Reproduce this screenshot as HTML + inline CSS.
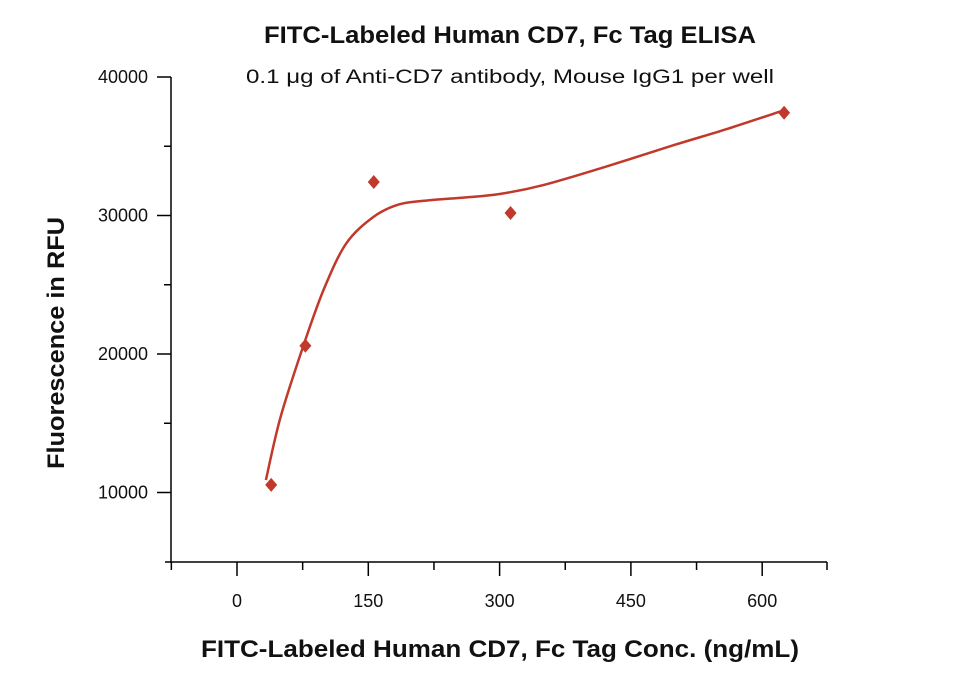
<!DOCTYPE html>
<html><head><meta charset="utf-8"><style>
body{margin:0;background:#fff;}
svg text{font-family:"Liberation Sans",sans-serif;fill:#111;}
</style></head><body>
<svg width="960" height="674" xmlns="http://www.w3.org/2000/svg">
<g id="g"></g>
</svg>
<script>
const pointX=[39.06,78.125,156.25,312.5,625];
const pointY=[10550,20600,32420,30180,37420];
const curveX=[33,50,78,100,125,156,185,220,260,300,350,420,500,560,625];
const curveY=[10900,15500,21000,24800,28000,29900,30800,31100,31300,31550,32200,33500,35100,36250,37600];
const xTicks=[0,150,300,450,600];
const yTicks=[10000,20000,30000,40000];
const xMinor=[-75,75,225,375,525,675];
const yMinor=[15000,25000,35000];
const NS='http://www.w3.org/2000/svg';
const g=document.getElementById('g');
const X0=237,XS=131.3/150,YTOP=77,YS=138.5/10000;
const xs=v=>X0+v*XS, ys=v=>YTOP+(40000-v)*YS;
function el(t,a,txt){const e=document.createElementNS(NS,t);for(const k in a)e.setAttribute(k,a[k]);if(txt!==undefined)e.textContent=txt;g.appendChild(e);return e;}
let e;
e=el('line',{x1:171,y1:77,x2:171,y2:563,stroke:'#000','stroke-width':1.5});

e=el('line',{x1:165,y1:562,x2:827,y2:562,stroke:'#000','stroke-width':1.5});

xTicks.forEach(v=>{const x=xs(v);
 e=el('line',{x1:x,y1:562,x2:x,y2:576,stroke:'#000','stroke-width':1.5});
 
 e=el('text',{x:x,y:607,'font-size':18,'text-anchor':'middle'},String(v));
 });
xMinor.forEach(v=>{const x=Math.min(827,Math.max(171,xs(v)));
 e=el('line',{x1:x,y1:562,x2:x,y2:570,stroke:'#000','stroke-width':1.5});
 });
yTicks.forEach(v=>{const y=ys(v);
 e=el('line',{x1:157,y1:y,x2:171,y2:y,stroke:'#000','stroke-width':1.5});
 
 e=el('text',{x:148,y:y+6,'font-size':18,'text-anchor':'end'},String(v));
 });
yMinor.forEach(v=>{const y=ys(v);
 e=el('line',{x1:164,y1:y,x2:171,y2:y,stroke:'#000','stroke-width':1.5});
 });
const P=curveX.map((v,i)=>[xs(v),ys(curveY[i])]);
let d='M'+P[0][0]+','+P[0][1];
for(let i=0;i<P.length-1;i++){const p0=P[Math.max(0,i-1)],p1=P[i],p2=P[i+1],p3=P[Math.min(P.length-1,i+2)];
 d+=' C'+(p1[0]+(p2[0]-p0[0])/6)+','+(p1[1]+(p2[1]-p0[1])/6)+' '+(p2[0]-(p3[0]-p1[0])/6)+','+(p2[1]-(p3[1]-p1[1])/6)+' '+p2[0]+','+p2[1];}
e=el('path',{d:d,fill:'none',stroke:'#c0392b','stroke-width':2.5});

pointX.forEach((v,i)=>{const x=xs(v),y=ys(pointY[i]);
 e=el('path',{d:`M${x},${y-7} L${x+6},${y} L${x},${y+7} L${x-6},${y} Z`,fill:'#c0392b'});
 });
e=el('text',{x:510,y:43,'font-size':24,'font-weight':'bold','text-anchor':'middle',textLength:492,lengthAdjust:'spacingAndGlyphs'},'FITC-Labeled Human CD7, Fc Tag ELISA');

e=el('text',{x:510,y:83,'font-size':19,'text-anchor':'middle',textLength:528,lengthAdjust:'spacingAndGlyphs'},'0.1 μg of Anti-CD7 antibody, Mouse IgG1 per well');

e=el('text',{x:500,y:657,'font-size':24,'font-weight':'bold','text-anchor':'middle',textLength:598,lengthAdjust:'spacingAndGlyphs'},'FITC-Labeled Human CD7, Fc Tag Conc. (ng/mL)');

e=el('text',{x:0,y:0,'font-size':24,'font-weight':'bold','text-anchor':'middle',transform:'translate(64,343) rotate(-90)',textLength:252,lengthAdjust:'spacingAndGlyphs'},'Fluorescence in RFU');

</script>
</body></html>
